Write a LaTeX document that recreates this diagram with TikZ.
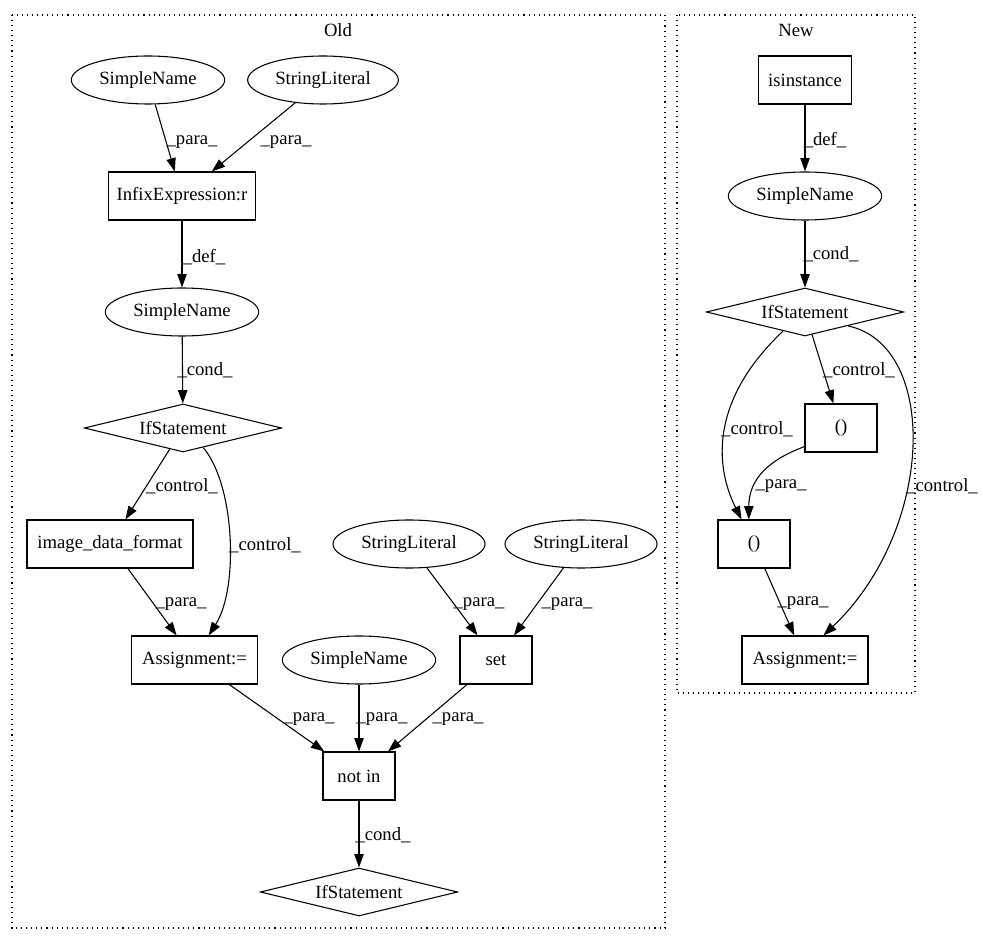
\documentclass[tikz,border=0pt]{standalone}
\usepackage{fontspec}
\setmainfont{Liberation Serif}
\usetikzlibrary{arrows.meta,shapes.geometric,calc}

\begin{document}
\begin{tikzpicture}[x=0.75pt,y=-0.75pt,line width=0.8pt,
  font=\fontsize{14pt}{16pt}\selectfont,
  box/.style={draw,rectangle,inner sep=0pt,minimum height=36pt},
  oval/.style={draw,ellipse,inner sep=0pt,minimum height=36pt,minimum width=115pt},
  cond/.style={draw,diamond,aspect=4.1,inner sep=0pt,minimum width=148pt,minimum height=36pt},
  lbl/.style={inner sep=0pt},
  arr/.style={-{Triangle[length=10pt,width=7pt]}},
  cluster/.style={dash pattern=on 0.8pt off 3pt}]
\useasboundingbox (0,0) rectangle (983,944);
% clusters
\draw[cluster] (12,15) rectangle (665,928);
\draw[cluster] (677,15) rectangle (915,693);
\node (old) at (338,30) {Old};
\node (new) at (796,30) {New};
% old graph
\node[oval] (sn1) at (148,80) {SimpleName};
\node[oval,minimum width=113pt] (sl1) at (323,80) {StringLiteral};
\node[box,minimum width=110pt] (infix) at (182,196) {InfixExpression:r};
\node[oval] (sn2) at (182,312) {SimpleName};
\node[cond] (ifst1) at (183,428) {IfStatement};
\node[box,minimum width=124.5pt] (idf) at (110,544) {image\_data\_format};
\node[oval,minimum width=114pt] (sl2) at (409,544) {StringLiteral};
\node[oval,minimum width=114pt] (sl3) at (581,544) {StringLiteral};
\node[box,minimum width=94pt] (asg1) at (194.5,660) {Assignment:=};
\node[oval] (sn3) at (359,660) {SimpleName};
\node[box,minimum width=54pt] (setf) at (496,660) {set};
\node[box,minimum width=54pt] (notin) at (359,776) {not in};
\node[cond] (ifst3) at (359,892) {IfStatement};
% new graph
\node[box,minimum width=70pt] (isinst) at (805,80) {isinstance};
\node[oval] (sn4) at (805,196) {SimpleName};
\node[cond] (ifst2) at (805,312) {IfStatement};
\node[box,minimum width=54pt] (pu) at (841,428) {()};
\node[box,minimum width=54pt] (pl) at (754,544) {()};
\node[box,minimum width=94.5pt] (asg2) at (805,660) {Assignment:=};
% old edges
\draw[arr] (sn1) -- (infix);
\draw[arr] (sl1) -- (infix);
\draw[arr] (infix) -- (sn2);
\draw[arr] (sn2) -- (ifst1);
\draw[arr] (ifst1) -- (idf);
\draw[arr] (ifst1.-44) .. controls +(32,38) and +(30,-47) .. (asg1.60);
\draw[arr] (idf) -- (asg1);
\draw[arr] (sl2) -- (setf);
\draw[arr] (sl3) -- (setf);
\draw[arr] (asg1) -- (notin);
\draw[arr] (sn3) -- (notin);
\draw[arr] (setf) -- (notin);
\draw[arr] (notin) -- (ifst3);
% new edges
\draw[arr] (isinst) -- (sn4);
\draw[arr] (sn4) -- (ifst2);
\draw[arr] (ifst2) -- (pu);
\draw[arr] (ifst2.-139) .. controls +(-71,67) and +(-28,-56) .. (pl.117);
\draw[arr] (ifst2.-18) .. controls +(91,19) and +(112,-107) .. (asg2.53);
\draw[arr] (pu.-153) .. controls +(-35,13) and +(0,-41) .. (pl.102);
\draw[arr] (pl) -- (asg2);
% edge labels
\node[lbl] (l1) at (192,142) {\_para\_};
\node[lbl] (l2) at (286,142) {\_para\_};
\node[lbl] (l3) at (204,257) {\_def\_};
\node[lbl] (l4) at (205,370) {\_cond\_};
\node[lbl] (l5) at (182,486) {\_control\_};
\node[lbl] (l6) at (265,545) {\_control\_};
\node[lbl] (l7) at (181,604) {\_para\_};
\node[lbl] (l8) at (479,604) {\_para\_};
\node[lbl] (l9) at (567,604) {\_para\_};
\node[lbl] (l10) at (309,719) {\_para\_};
\node[lbl] (l11) at (382,719) {\_para\_};
\node[lbl] (l12) at (458,719) {\_para\_};
\node[lbl] (l13) at (383,835) {\_cond\_};
\node[lbl] (l14) at (825,140) {\_def\_};
\node[lbl] (l15) at (831,254) {\_cond\_};
\node[lbl] (l16) at (859,370) {\_control\_};
\node[lbl] (l17) at (757,429) {\_control\_};
\node[lbl] (l18) at (781,486) {\_para\_};
\node[lbl] (l19) at (942,486) {\_control\_};
\node[lbl] (l20) at (803,603) {\_para\_};
\end{tikzpicture}
\end{document}
